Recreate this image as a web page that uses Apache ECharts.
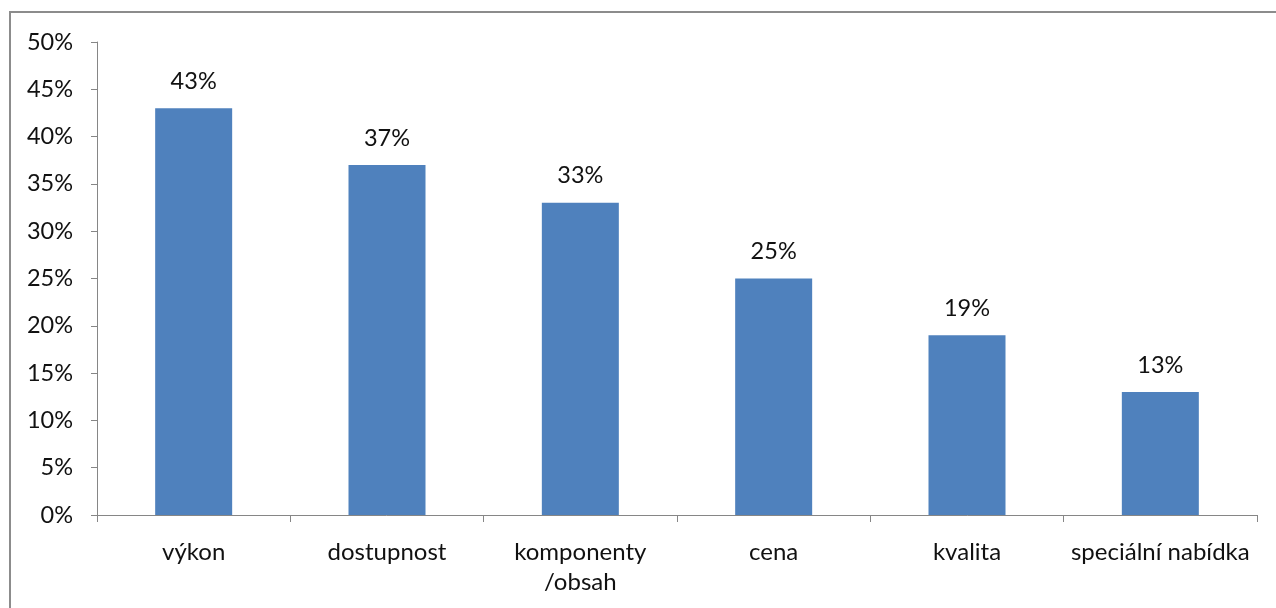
<!DOCTYPE html>
<html>
<head>
<meta charset="utf-8">
<script src="https://cdn.jsdelivr.net/npm/echarts@6/dist/echarts.min.js"></script>
<style>
  html, body { margin: 0; padding: 0; background: #fff; }
  #chart { width: 1276px; height: 608px; }
</style>
</head>
<body>
<div id="chart"></div>
<script>
// Categories and shares (percent)
const categories = ['výkon', 'dostupnost', 'komponenty\n/obsah', 'cena', 'kvalita', 'speciální nabídka'];
const shares = [43, 37, 33, 25, 19, 13];
const yTicks = { min: 0, max: 50, interval: 5 };

const font = 'Lato, "Open Sans", sans-serif';
const axisGray = '#868686';
const textColor = '#111';

const chart = echarts.init(document.getElementById('chart'));
chart.setOption({
  animation: false,
  backgroundColor: '#ffffff',
  graphic: [{
    type: 'polyline',
    shape: { points: [[10, 608], [10, 12], [1276, 12]] },
    style: { stroke: '#8c8c8c', lineWidth: 2, fill: null }
  }],
  grid: { left: 97, right: 19, top: 42, bottom: 93 },
  xAxis: {
    type: 'category',
    data: categories,
    axisLine: { lineStyle: { color: axisGray, width: 1 } },
    axisTick: { show: true, length: 7, alignWithLabel: false, lineStyle: { color: axisGray } },
    axisLabel: {
      color: textColor, fontFamily: font, fontSize: 24, margin: 22, lineHeight: 30,
      interval: 0
    }
  },
  yAxis: {
    type: 'value',
    min: yTicks.min, max: yTicks.max, interval: yTicks.interval,
    axisLine: { show: true, lineStyle: { color: axisGray, width: 1 } },
    axisTick: { show: true, length: 6, lineStyle: { color: axisGray } },
    splitLine: { show: false },
    axisLabel: {
      color: textColor, fontFamily: font, fontSize: 23.5, margin: 24,
      formatter: v => v + '%'
    }
  },
  series: [{
    type: 'bar',
    data: shares,
    barWidth: 77,
    itemStyle: { color: '#4f81bd' },
    label: {
      show: true, position: 'top', distance: 15,
      color: textColor, fontFamily: font, fontSize: 23.5,
      formatter: p => p.value + '%'
    }
  }]
});
</script>
</body>
</html>
